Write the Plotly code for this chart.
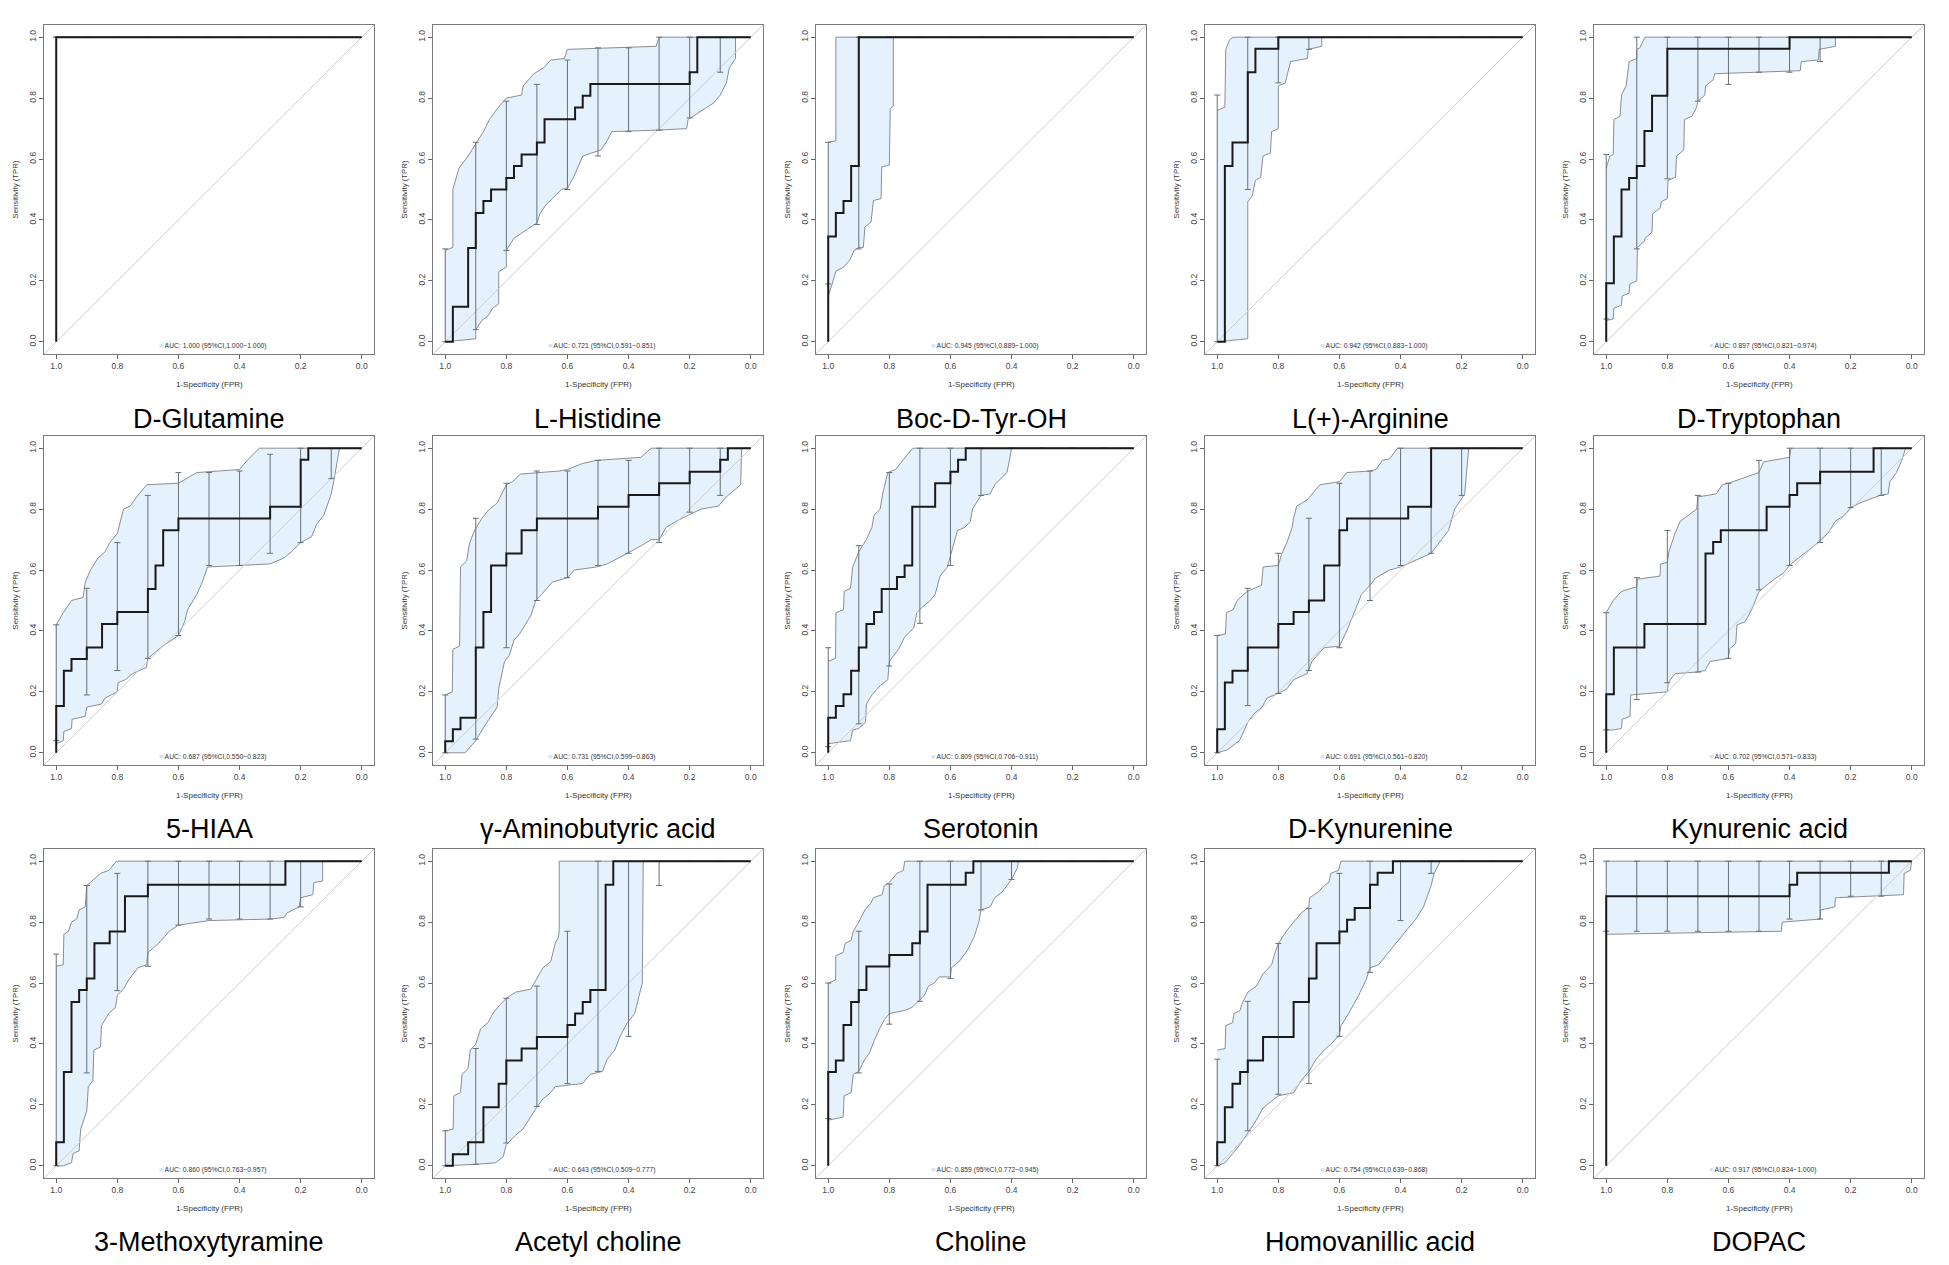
import plotly.graph_objects as go

# ---------------- data ----------------
NAMES = ["D-Glutamine", "L-Histidine", "Boc-D-Tyr-OH", "L(+)-Arginine", "D-Tryptophan",
         "5-HIAA", "γ-Aminobutyric acid", "Serotonin", "D-Kynurenine", "Kynurenic acid",
         "3-Methoxytyramine", "Acetyl choline", "Choline", "Homovanillic acid", "DOPAC"]
AUC = [1.000, 0.721, 0.945, 0.942, 0.897, 0.687, 0.731, 0.809, 0.691, 0.702, 0.860, 0.643, 0.859, 0.754, 0.917]
AUC_CI_LO = [1.000, 0.591, 0.889, 0.883, 0.821, 0.550, 0.599, 0.706, 0.561, 0.571, 0.763, 0.509, 0.772, 0.639, 0.824]
AUC_CI_HI = [1.000, 0.851, 1.000, 1.000, 0.974, 0.823, 0.863, 0.911, 0.820, 0.833, 0.957, 0.777, 0.945, 0.868, 1.000]

TICKS = [0.0, 0.2, 0.4, 0.6, 0.8, 1.0]
TICK_LABELS = ["0.0", "0.2", "0.4", "0.6", "0.8", "1.0"]
BAR_SPEC = [1.0, 0.9, 0.8, 0.7, 0.6, 0.5, 0.4, 0.3, 0.2, 0.1]

# 1 D-Glutamine
P01_ROC_SP = [1.0, 1.0, 0.0]
P01_ROC_SE = [0.0, 1.0, 1.0]
P01_UPPER = [(1.0, 1.0), (0.0, 1.0)]
P01_LOWER = [(1.0, 1.0), (0.0, 1.0)]
P01_BAR_LO = [1.0, 1.0, 1.0, 1.0, 1.0, 1.0, 1.0, 1.0, 1.0, 1.0]
P01_BAR_HI = [1.0, 1.0, 1.0, 1.0, 1.0, 1.0, 1.0, 1.0, 1.0, 1.0]

# 2 L-Histidine
P02_ROC_SP = [1.0, 0.975, 0.925, 0.9, 0.875, 0.85, 0.8, 0.775, 0.75, 0.7, 0.675, 0.575, 0.55, 0.525, 0.2, 0.175, 0.0]
P02_ROC_SE = [0.0, 0.115, 0.308, 0.423, 0.462, 0.5, 0.538, 0.577, 0.615, 0.654, 0.731, 0.769, 0.808, 0.846, 0.885, 1.0, 1.0]
P02_UPPER = [(1.0, 0.30), (0.975, 0.31), (0.975, 0.50), (0.955, 0.57), (0.925, 0.61), (0.9, 0.65), (0.875, 0.69),
             (0.855, 0.73), (0.83, 0.765), (0.8, 0.80), (0.75, 0.81), (0.745, 0.84), (0.71, 0.88), (0.677, 0.90),
             (0.655, 0.925), (0.61, 0.93), (0.6, 0.96), (0.31, 0.97), (0.30, 1.0), (0.0, 1.0)]
P02_LOWER = [(1.0, 0.0), (0.9, 0.01), (0.9, 0.04), (0.88, 0.07), (0.86, 0.085), (0.845, 0.11), (0.825, 0.125),
             (0.825, 0.23), (0.8, 0.245), (0.8, 0.30), (0.775, 0.34), (0.73, 0.37), (0.70, 0.39), (0.69, 0.42),
             (0.67, 0.45), (0.62, 0.50), (0.60, 0.505), (0.58, 0.54), (0.55, 0.61), (0.49, 0.63), (0.47, 0.66),
             (0.455, 0.69), (0.30, 0.695), (0.21, 0.70), (0.205, 0.73), (0.16, 0.76), (0.12, 0.785), (0.10, 0.81),
             (0.08, 0.85), (0.07, 0.9), (0.05, 0.93), (0.05, 1.0), (0.0, 1.0)]
P02_BAR_LO = [0.0, 0.04, 0.30, 0.385, 0.50, 0.61, 0.69, 0.695, 0.735, 0.885]
P02_BAR_HI = [0.305, 0.655, 0.79, 0.845, 0.925, 0.965, 0.965, 1.0, 1.0, 1.0]

# 3 Boc-D-Tyr-OH
P03_ROC_SP = [1.0, 1.0, 0.975, 0.95, 0.925, 0.9, 0.0]
P03_ROC_SE = [0.0, 0.346, 0.423, 0.462, 0.577, 1.0, 1.0]
P03_UPPER = [(1.0, 0.655), (0.975, 0.66), (0.975, 1.0), (0.0, 1.0)]
P03_LOWER = [(1.0, 0.15), (0.987, 0.19), (0.975, 0.232), (0.95, 0.245), (0.93, 0.267), (0.915, 0.30), (0.9, 0.31),
             (0.885, 0.31), (0.88, 0.377), (0.86, 0.393), (0.852, 0.464), (0.827, 0.47), (0.825, 0.574), (0.8, 0.58),
             (0.797, 0.766), (0.787, 0.773), (0.787, 1.0), (0.0, 1.0)]
P03_BAR_LO = [0.19, 0.305, 1.0, 1.0, 1.0, 1.0, 1.0, 1.0, 1.0, 1.0]
P03_BAR_HI = [0.655, 1.0, 1.0, 1.0, 1.0, 1.0, 1.0, 1.0, 1.0, 1.0]

# 4 L(+)-Arginine
P04_ROC_SP = [1.0, 0.975, 0.95, 0.9, 0.875, 0.8, 0.0]
P04_ROC_SE = [0.0, 0.577, 0.654, 0.885, 0.962, 1.0, 1.0]
P04_UPPER = [(1.0, 0.76), (0.975, 0.77), (0.972, 0.96), (0.96, 0.99), (0.948, 1.0), (0.0, 1.0)]
P04_LOWER = [(1.0, 0.0), (0.9, 0.01), (0.9, 0.46), (0.885, 0.48), (0.875, 0.53), (0.858, 0.54), (0.85, 0.61),
             (0.826, 0.62), (0.822, 0.69), (0.8, 0.70), (0.8, 0.84), (0.777, 0.85), (0.77, 0.88), (0.76, 0.92),
             (0.705, 0.93), (0.702, 0.96), (0.658, 0.97), (0.658, 1.0), (0.0, 1.0)]
P04_BAR_LO = [0.0, 0.50, 0.85, 0.96, 1.0, 1.0, 1.0, 1.0, 1.0, 1.0]
P04_BAR_HI = [0.81, 1.0, 1.0, 1.0, 1.0, 1.0, 1.0, 1.0, 1.0, 1.0]

# 5 D-Tryptophan
P05_ROC_SP = [1.0, 1.0, 0.975, 0.95, 0.925, 0.9, 0.875, 0.85, 0.8, 0.4, 0.0]
P05_ROC_SE = [0.0, 0.192, 0.346, 0.5, 0.538, 0.577, 0.692, 0.808, 0.962, 1.0, 1.0]
P05_UPPER = [(1.0, 0.57), (0.988, 0.61), (0.977, 0.615), (0.975, 0.73), (0.955, 0.74), (0.95, 0.81), (0.935, 0.84),
             (0.925, 0.92), (0.9, 0.93), (0.9, 0.96), (0.89, 0.965), (0.873, 1.0), (0.0, 1.0)]
P05_LOWER = [(1.0, 0.07), (0.977, 0.075), (0.975, 0.11), (0.95, 0.12), (0.948, 0.15), (0.925, 0.16), (0.923, 0.19),
             (0.9, 0.2), (0.898, 0.31), (0.875, 0.33), (0.873, 0.34), (0.85, 0.36), (0.848, 0.42), (0.823, 0.44),
             (0.82, 0.46), (0.8, 0.47), (0.798, 0.53), (0.773, 0.54), (0.77, 0.61), (0.746, 0.63), (0.744, 0.73),
             (0.72, 0.74), (0.71, 0.76), (0.704, 0.77), (0.7, 0.79), (0.677, 0.81), (0.675, 0.84), (0.65, 0.86),
             (0.645, 0.88), (0.5, 0.885), (0.365, 0.89), (0.362, 0.92), (0.306, 0.925), (0.303, 0.96), (0.25, 0.97),
             (0.25, 1.0), (0.0, 1.0)]
P05_BAR_LO = [0.075, 0.305, 0.535, 0.79, 0.845, 0.885, 0.885, 0.92, 1.0, 1.0]
P05_BAR_HI = [0.615, 1.0, 1.0, 1.0, 1.0, 1.0, 1.0, 1.0, 1.0, 1.0]

# 6 5-HIAA
P06_ROC_SP = [1.0, 1.0, 0.975, 0.95, 0.9, 0.85, 0.8, 0.7, 0.675, 0.65, 0.6, 0.3, 0.2, 0.175, 0.0]
P06_ROC_SE = [0.0, 0.154, 0.269, 0.308, 0.346, 0.423, 0.462, 0.538, 0.615, 0.731, 0.769, 0.808, 0.962, 1.0, 1.0]
P06_UPPER = [(1.0, 0.42), (0.977, 0.46), (0.95, 0.5), (0.912, 0.51), (0.905, 0.56), (0.888, 0.60), (0.863, 0.64),
             (0.84, 0.66), (0.825, 0.69), (0.8, 0.72), (0.78, 0.80), (0.758, 0.81), (0.737, 0.84), (0.704, 0.88),
             (0.6, 0.885), (0.54, 0.92), (0.4, 0.93), (0.375, 0.96), (0.335, 1.0), (0.0, 1.0)]
P06_LOWER = [(1.0, 0.03), (0.977, 0.04), (0.975, 0.07), (0.95, 0.08), (0.948, 0.11), (0.905, 0.12), (0.9, 0.15),
             (0.852, 0.16), (0.84, 0.18), (0.8, 0.2), (0.798, 0.23), (0.774, 0.24), (0.75, 0.26), (0.705, 0.28),
             (0.7, 0.31), (0.676, 0.33), (0.652, 0.35), (0.6, 0.385), (0.58, 0.43), (0.57, 0.47), (0.54, 0.52),
             (0.522, 0.56), (0.505, 0.61), (0.3, 0.62), (0.254, 0.64), (0.23, 0.66), (0.2, 0.69), (0.164, 0.71),
             (0.148, 0.75), (0.124, 0.78), (0.1, 0.85), (0.09, 0.90), (0.073, 1.0), (0.0, 1.0)]
P06_BAR_LO = [0.04, 0.19, 0.27, 0.31, 0.385, 0.615, 0.615, 0.655, 0.69, 0.90]
P06_BAR_HI = [0.42, 0.54, 0.69, 0.845, 0.92, 0.92, 0.925, 0.98, 1.0, 1.0]

# 7 gamma-Aminobutyric acid
P07_ROC_SP = [1.0, 1.0, 0.975, 0.95, 0.9, 0.9, 0.875, 0.85, 0.8, 0.75, 0.7, 0.5, 0.4, 0.3, 0.2, 0.1, 0.075, 0.0]
P07_ROC_SE = [0.0, 0.038, 0.077, 0.115, 0.192, 0.346, 0.462, 0.615, 0.654, 0.731, 0.769, 0.808, 0.846, 0.885, 0.923, 0.962, 1.0, 1.0]
P07_UPPER = [(1.0, 0.19), (0.977, 0.2), (0.975, 0.34), (0.953, 0.35), (0.95, 0.61), (0.93, 0.63), (0.92, 0.69),
             (0.904, 0.73), (0.88, 0.77), (0.855, 0.80), (0.83, 0.82), (0.814, 0.85), (0.8, 0.88), (0.78, 0.89),
             (0.754, 0.915), (0.627, 0.925), (0.6, 0.93), (0.55, 0.95), (0.505, 0.96), (0.36, 0.97), (0.326, 1.0),
             (0.0, 1.0)]
P07_LOWER = [(1.0, 0.0), (0.935, 0.0), (0.9, 0.04), (0.87, 0.09), (0.85, 0.12), (0.83, 0.15), (0.825, 0.21),
             (0.806, 0.30), (0.79, 0.32), (0.775, 0.37), (0.757, 0.39), (0.733, 0.43), (0.72, 0.45), (0.704, 0.5),
             (0.684, 0.52), (0.65, 0.56), (0.6, 0.575), (0.578, 0.60), (0.505, 0.61), (0.47, 0.62), (0.404, 0.655),
             (0.358, 0.68), (0.326, 0.70), (0.3, 0.70), (0.277, 0.74), (0.244, 0.76), (0.204, 0.78), (0.163, 0.80),
             (0.106, 0.81), (0.08, 0.84), (0.033, 0.88), (0.03, 1.0), (0.0, 1.0)]
P07_BAR_LO = [0.0, 0.045, 0.345, 0.5, 0.575, 0.615, 0.655, 0.69, 0.79, 0.845]
P07_BAR_HI = [0.19, 0.77, 0.885, 0.925, 0.925, 0.96, 0.96, 1.0, 1.0, 1.0]

# 8 Serotonin
P08_ROC_SP = [1.0, 1.0, 0.975, 0.95, 0.925, 0.9, 0.875, 0.85, 0.825, 0.775, 0.75, 0.725, 0.65, 0.6, 0.575, 0.55, 0.0]
P08_ROC_SE = [0.0, 0.115, 0.154, 0.192, 0.269, 0.346, 0.423, 0.462, 0.538, 0.577, 0.615, 0.808, 0.885, 0.923, 0.962, 1.0, 1.0]
P08_UPPER = [(1.0, 0.30), (0.976, 0.31), (0.975, 0.46), (0.95, 0.47), (0.948, 0.53), (0.927, 0.54), (0.92, 0.61),
             (0.9, 0.66), (0.875, 0.70), (0.857, 0.74), (0.85, 0.78), (0.83, 0.80), (0.822, 0.85), (0.805, 0.92),
             (0.78, 0.93), (0.765, 0.95), (0.74, 0.98), (0.723, 1.0), (0.0, 1.0)]
P08_LOWER = [(1.0, 0.03), (0.927, 0.04), (0.92, 0.075), (0.9, 0.08), (0.878, 0.10), (0.875, 0.16), (0.857, 0.19),
             (0.83, 0.22), (0.805, 0.24), (0.8, 0.30), (0.77, 0.34), (0.75, 0.38), (0.72, 0.41), (0.71, 0.46),
             (0.69, 0.48), (0.666, 0.50), (0.65, 0.52), (0.634, 0.58), (0.61, 0.61), (0.6, 0.65), (0.577, 0.73),
             (0.553, 0.74), (0.535, 0.76), (0.528, 0.80), (0.5, 0.845), (0.47, 0.85), (0.455, 0.88), (0.415, 0.92),
             (0.405, 0.97), (0.4, 1.0), (0.0, 1.0)]
P08_BAR_LO = [0.02, 0.095, 0.285, 0.425, 0.615, 0.845, 1.0, 1.0, 1.0, 1.0]
P08_BAR_HI = [0.345, 0.68, 0.92, 1.0, 1.0, 1.0, 1.0, 1.0, 1.0, 1.0]

# 9 D-Kynurenine
P09_ROC_SP = [1.0, 1.0, 0.975, 0.95, 0.9, 0.8, 0.75, 0.7, 0.65, 0.6, 0.575, 0.375, 0.3, 0.0]
P09_ROC_SE = [0.0, 0.077, 0.231, 0.269, 0.346, 0.423, 0.462, 0.5, 0.615, 0.731, 0.769, 0.808, 1.0, 1.0]
P09_UPPER = [(1.0, 0.385), (0.973, 0.39), (0.97, 0.46), (0.948, 0.47), (0.935, 0.5), (0.902, 0.53), (0.855, 0.55),
             (0.85, 0.61), (0.8, 0.615), (0.79, 0.65), (0.772, 0.69), (0.755, 0.74), (0.75, 0.77), (0.74, 0.81),
             (0.706, 0.83), (0.68, 0.86), (0.664, 0.88), (0.6, 0.89), (0.576, 0.92), (0.5, 0.925), (0.48, 0.93),
             (0.46, 0.96), (0.436, 0.965), (0.41, 1.0), (0.0, 1.0)]
P09_LOWER = [(1.0, 0.0), (0.967, 0.01), (0.927, 0.04), (0.9, 0.10), (0.878, 0.13), (0.853, 0.15), (0.837, 0.18),
             (0.8, 0.195), (0.772, 0.21), (0.75, 0.24), (0.706, 0.26), (0.69, 0.30), (0.664, 0.33), (0.65, 0.345),
             (0.6, 0.35), (0.576, 0.40), (0.544, 0.48), (0.528, 0.52), (0.5, 0.55), (0.48, 0.575), (0.436, 0.60),
             (0.4, 0.61), (0.3, 0.655), (0.267, 0.70), (0.243, 0.73), (0.223, 0.80), (0.19, 0.85), (0.177, 1.0),
             (0.0, 1.0)]
P09_BAR_LO = [0.0, 0.155, 0.195, 0.27, 0.345, 0.5, 0.615, 0.655, 0.845, 1.0]
P09_BAR_HI = [0.385, 0.54, 0.655, 0.77, 0.885, 0.925, 1.0, 1.0, 1.0, 1.0]

# 10 Kynurenic acid
P10_ROC_SP = [1.0, 1.0, 0.975, 0.875, 0.675, 0.65, 0.625, 0.475, 0.4, 0.375, 0.3, 0.125, 0.0]
P10_ROC_SE = [0.0, 0.192, 0.346, 0.423, 0.654, 0.692, 0.731, 0.808, 0.846, 0.885, 0.923, 1.0, 1.0]
P10_UPPER = [(1.0, 0.46), (0.977, 0.5), (0.95, 0.53), (0.9, 0.545), (0.898, 0.57), (0.824, 0.58), (0.822, 0.62),
             (0.8, 0.625), (0.795, 0.66), (0.785, 0.69), (0.775, 0.72), (0.758, 0.76), (0.73, 0.78), (0.704, 0.80),
             (0.7, 0.84), (0.64, 0.85), (0.62, 0.88), (0.6, 0.885), (0.5, 0.92), (0.485, 0.955), (0.4, 0.97),
             (0.395, 1.0), (0.0, 1.0)]
P10_LOWER = [(1.0, 0.075), (0.977, 0.075), (0.95, 0.08), (0.948, 0.11), (0.922, 0.12), (0.92, 0.19), (0.8, 0.20),
             (0.797, 0.23), (0.775, 0.26), (0.704, 0.265), (0.677, 0.27), (0.66, 0.30), (0.6, 0.31), (0.597, 0.34),
             (0.576, 0.36), (0.572, 0.42), (0.546, 0.43), (0.524, 0.47), (0.5, 0.53), (0.485, 0.54), (0.45, 0.57),
             (0.42, 0.59), (0.4, 0.615), (0.37, 0.64), (0.35, 0.655), (0.32, 0.68), (0.3, 0.695), (0.275, 0.72),
             (0.25, 0.76), (0.22, 0.78), (0.2, 0.805), (0.17, 0.82), (0.104, 0.845), (0.077, 0.85), (0.072, 0.89),
             (0.05, 0.92), (0.033, 0.96), (0.02, 1.0), (0.0, 1.0)]
P10_BAR_LO = [0.075, 0.175, 0.23, 0.265, 0.31, 0.535, 0.615, 0.69, 0.805, 0.845]
P10_BAR_HI = [0.46, 0.575, 0.73, 0.845, 0.885, 0.96, 1.0, 1.0, 1.0, 1.0]

# 11 3-Methoxytyramine
P11_ROC_SP = [1.0, 1.0, 0.975, 0.95, 0.925, 0.9, 0.875, 0.825, 0.775, 0.7, 0.25, 0.0]
P11_ROC_SE = [0.0, 0.077, 0.308, 0.538, 0.577, 0.615, 0.731, 0.769, 0.885, 0.923, 1.0, 1.0]
P11_UPPER = [(1.0, 0.655), (0.977, 0.66), (0.975, 0.76), (0.96, 0.77), (0.95, 0.80), (0.933, 0.81), (0.925, 0.84),
             (0.905, 0.85), (0.9, 0.92), (0.888, 0.93), (0.855, 0.96), (0.828, 0.97), (0.803, 1.0), (0.0, 1.0)]
P11_LOWER = [(1.0, 0.0), (0.977, 0.0), (0.95, 0.01), (0.945, 0.04), (0.925, 0.05), (0.92, 0.12), (0.9, 0.18),
             (0.895, 0.26), (0.88, 0.28), (0.877, 0.38), (0.855, 0.39), (0.852, 0.46), (0.828, 0.50), (0.806, 0.52),
             (0.8, 0.56), (0.78, 0.58), (0.763, 0.61), (0.733, 0.65), (0.704, 0.66), (0.7, 0.70), (0.665, 0.73),
             (0.63, 0.77), (0.6, 0.79), (0.5, 0.805), (0.3, 0.81), (0.254, 0.815), (0.245, 0.83), (0.205, 0.85),
             (0.2, 0.88), (0.16, 0.89), (0.157, 0.93), (0.128, 0.935), (0.128, 1.0), (0.0, 1.0)]
P11_BAR_LO = [0.0, 0.305, 0.575, 0.655, 0.79, 0.81, 0.81, 0.81, 0.85, 1.0]
P11_BAR_HI = [0.695, 0.92, 0.96, 1.0, 1.0, 1.0, 1.0, 1.0, 1.0, 1.0]

# 12 Acetyl choline
P12_ROC_SP = [1.0, 0.975, 0.925, 0.875, 0.825, 0.8, 0.75, 0.7, 0.6, 0.575, 0.55, 0.525, 0.475, 0.45, 0.0]
P12_ROC_SE = [0.0, 0.038, 0.077, 0.192, 0.269, 0.346, 0.385, 0.423, 0.462, 0.5, 0.538, 0.577, 0.923, 1.0, 1.0]
P12_UPPER = [(1.0, 0.115), (0.974, 0.12), (0.972, 0.23), (0.95, 0.24), (0.945, 0.30), (0.925, 0.32), (0.918, 0.38),
             (0.9, 0.40), (0.884, 0.45), (0.86, 0.47), (0.844, 0.50), (0.82, 0.53), (0.8, 0.55), (0.77, 0.57),
             (0.72, 0.58), (0.697, 0.62), (0.68, 0.65), (0.655, 0.67), (0.64, 0.73), (0.63, 0.75), (0.627, 0.77),
             (0.627, 1.0), (0.0, 1.0)]
P12_LOWER = [(1.0, 0.0), (0.9, 0.005), (0.835, 0.01), (0.81, 0.03), (0.8, 0.07), (0.77, 0.10), (0.746, 0.12),
             (0.72, 0.16), (0.702, 0.19), (0.68, 0.22), (0.655, 0.24), (0.64, 0.26), (0.6, 0.265), (0.55, 0.27),
             (0.526, 0.30), (0.485, 0.31), (0.47, 0.35), (0.445, 0.38), (0.43, 0.42), (0.404, 0.47), (0.38, 0.5),
             (0.355, 0.6), (0.352, 1.0), (0.0, 1.0)]
P12_BAR_LO = [0.0, 0.005, 0.075, 0.195, 0.27, 0.31, 0.425, 0.92, 1.0, 1.0]
P12_BAR_HI = [0.115, 0.385, 0.55, 0.59, 0.77, 1.0, 1.0, 1.0, 1.0, 1.0]

# 13 Choline
P13_ROC_SP = [1.0, 1.0, 0.975, 0.95, 0.925, 0.9, 0.875, 0.8, 0.725, 0.7, 0.675, 0.55, 0.525, 0.0]
P13_ROC_SE = [0.0, 0.308, 0.346, 0.462, 0.538, 0.577, 0.654, 0.692, 0.731, 0.769, 0.923, 0.962, 1.0, 1.0]
P13_UPPER = [(1.0, 0.6), (0.976, 0.61), (0.975, 0.69), (0.951, 0.70), (0.945, 0.73), (0.925, 0.74), (0.918, 0.77),
             (0.9, 0.80), (0.88, 0.84), (0.862, 0.86), (0.852, 0.88), (0.824, 0.89), (0.816, 0.92), (0.8, 0.93),
             (0.775, 0.96), (0.754, 0.97), (0.75, 1.0), (0.0, 1.0)]
P13_LOWER = [(1.0, 0.15), (0.951, 0.16), (0.948, 0.23), (0.925, 0.24), (0.918, 0.30), (0.9, 0.31), (0.88, 0.35),
             (0.865, 0.37), (0.85, 0.41), (0.832, 0.45), (0.816, 0.48), (0.8, 0.50), (0.75, 0.51), (0.726, 0.52),
             (0.705, 0.54), (0.685, 0.56), (0.672, 0.59), (0.653, 0.60), (0.637, 0.62), (0.6, 0.62), (0.597, 0.65),
             (0.572, 0.67), (0.543, 0.71), (0.523, 0.75), (0.507, 0.80), (0.5, 0.84), (0.47, 0.85), (0.455, 0.88),
             (0.43, 0.90), (0.4, 0.94), (0.38, 0.98), (0.378, 1.0), (0.0, 1.0)]
P13_BAR_LO = [0.155, 0.305, 0.465, 0.54, 0.615, 0.84, 0.94, 1.0, 1.0, 1.0]
P13_BAR_HI = [0.6, 0.77, 0.925, 1.0, 1.0, 1.0, 1.0, 1.0, 1.0, 1.0]

# 14 Homovanillic acid
P14_ROC_SP = [1.0, 1.0, 0.975, 0.95, 0.925, 0.9, 0.85, 0.75, 0.7, 0.675, 0.6, 0.575, 0.55, 0.5, 0.475, 0.425, 0.0]
P14_ROC_SE = [0.0, 0.077, 0.192, 0.269, 0.308, 0.346, 0.423, 0.538, 0.615, 0.731, 0.769, 0.808, 0.846, 0.923, 0.962, 1.0, 1.0]
P14_UPPER = [(1.0, 0.38), (0.974, 0.385), (0.972, 0.46), (0.95, 0.47), (0.945, 0.50), (0.925, 0.51), (0.92, 0.53),
             (0.9, 0.57), (0.872, 0.59), (0.85, 0.63), (0.822, 0.66), (0.814, 0.69), (0.8, 0.73), (0.774, 0.77),
             (0.75, 0.80), (0.725, 0.83), (0.7, 0.85), (0.698, 0.88), (0.668, 0.90), (0.65, 0.92), (0.635, 0.93),
             (0.628, 0.96), (0.603, 0.97), (0.595, 1.0), (0.0, 1.0)]
P14_LOWER = [(1.0, 0.0), (0.974, 0.01), (0.95, 0.04), (0.925, 0.07), (0.9, 0.11), (0.872, 0.15), (0.85, 0.19),
             (0.8, 0.23), (0.75, 0.24), (0.725, 0.28), (0.7, 0.31), (0.676, 0.35), (0.65, 0.38), (0.627, 0.40),
             (0.6, 0.43), (0.595, 0.46), (0.57, 0.50), (0.537, 0.56), (0.513, 0.61), (0.5, 0.65), (0.472, 0.66),
             (0.448, 0.69), (0.423, 0.72), (0.4, 0.75), (0.375, 0.78), (0.35, 0.81), (0.325, 0.85), (0.3, 0.92),
             (0.29, 0.96), (0.27, 1.0), (0.0, 1.0)]
P14_BAR_LO = [0.0, 0.115, 0.235, 0.27, 0.425, 0.635, 0.805, 0.96, 1.0, 1.0]
P14_BAR_HI = [0.35, 0.54, 0.73, 0.845, 0.96, 1.0, 1.0, 1.0, 1.0, 1.0]

# 15 DOPAC
P15_ROC_SP = [1.0, 1.0, 0.4, 0.375, 0.075, 0.0]
P15_ROC_SE = [0.0, 0.885, 0.923, 0.962, 1.0, 1.0]
P15_UPPER = [(1.0, 1.0), (0.0, 1.0)]
P15_LOWER = [(1.0, 0.76), (0.427, 0.77), (0.424, 0.80), (0.3, 0.81), (0.298, 0.84), (0.252, 0.85), (0.25, 0.88),
             (0.027, 0.89), (0.025, 0.96), (0.005, 0.97), (0.0, 1.0)]
P15_BAR_LO = [0.77, 0.77, 0.77, 0.77, 0.77, 0.77, 0.81, 0.81, 0.885, 0.885]
P15_BAR_HI = [1.0, 1.0, 1.0, 1.0, 1.0, 1.0, 1.0, 1.0, 1.0, 1.0]

PANELS = [
    (P01_ROC_SP, P01_ROC_SE, P01_UPPER, P01_LOWER, P01_BAR_LO, P01_BAR_HI),
    (P02_ROC_SP, P02_ROC_SE, P02_UPPER, P02_LOWER, P02_BAR_LO, P02_BAR_HI),
    (P03_ROC_SP, P03_ROC_SE, P03_UPPER, P03_LOWER, P03_BAR_LO, P03_BAR_HI),
    (P04_ROC_SP, P04_ROC_SE, P04_UPPER, P04_LOWER, P04_BAR_LO, P04_BAR_HI),
    (P05_ROC_SP, P05_ROC_SE, P05_UPPER, P05_LOWER, P05_BAR_LO, P05_BAR_HI),
    (P06_ROC_SP, P06_ROC_SE, P06_UPPER, P06_LOWER, P06_BAR_LO, P06_BAR_HI),
    (P07_ROC_SP, P07_ROC_SE, P07_UPPER, P07_LOWER, P07_BAR_LO, P07_BAR_HI),
    (P08_ROC_SP, P08_ROC_SE, P08_UPPER, P08_LOWER, P08_BAR_LO, P08_BAR_HI),
    (P09_ROC_SP, P09_ROC_SE, P09_UPPER, P09_LOWER, P09_BAR_LO, P09_BAR_HI),
    (P10_ROC_SP, P10_ROC_SE, P10_UPPER, P10_LOWER, P10_BAR_LO, P10_BAR_HI),
    (P11_ROC_SP, P11_ROC_SE, P11_UPPER, P11_LOWER, P11_BAR_LO, P11_BAR_HI),
    (P12_ROC_SP, P12_ROC_SE, P12_UPPER, P12_LOWER, P12_BAR_LO, P12_BAR_HI),
    (P13_ROC_SP, P13_ROC_SE, P13_UPPER, P13_LOWER, P13_BAR_LO, P13_BAR_HI),
    (P14_ROC_SP, P14_ROC_SE, P14_UPPER, P14_LOWER, P14_BAR_LO, P14_BAR_HI),
    (P15_ROC_SP, P15_ROC_SE, P15_UPPER, P15_LOWER, P15_BAR_LO, P15_BAR_HI),
]

# ---------------- layout / style ----------------
W, H = 1949, 1265
PAGE_OFFSET = 8          # default body margin of the html page
COL_LEFT = [44, 433, 816, 1205, 1594]
ROW_TOP = [25, 436, 849]
ROW_TITLE_Y = [419, 829, 1242]
BOX_W, BOX_H = 330, 329
PAD = 0.04
FONT = "Arial, Liberation Sans, Helvetica, sans-serif"
FILL = "#E5F1FC"
EDGE = "#8A8F93"
BAR_COL = "#667078"


def px_x(px):
    return (px - PAGE_OFFSET) / W


def px_y(py):
    return 1 - (py - PAGE_OFFSET) / H


fig = go.Figure()
layout = dict(width=W, height=H, margin=dict(l=0, r=0, t=0, b=0),
              paper_bgcolor="white", plot_bgcolor="white", showlegend=False,
              font=dict(family=FONT, color="#333"))
annotations = []

for i, (roc_sp, roc_se, upper, lower, bar_lo, bar_hi) in enumerate(PANELS):
    r, c = divmod(i, 5)
    sfx = "" if i == 0 else str(i + 1)
    xa, ya = "x" + sfx, "y" + sfx
    left, top = COL_LEFT[c], ROW_TOP[r]
    right, bottom = left + BOX_W, top + BOX_H

    # CI band (shape)
    bx = [p[0] for p in upper] + [p[0] for p in reversed(lower)]
    by = [p[1] for p in upper] + [p[1] for p in reversed(lower)]
    fig.add_trace(go.Scatter(x=bx, y=by, mode="lines", fill="toself", fillcolor=FILL,
                             line=dict(color=EDGE, width=1), hoverinfo="skip",
                             xaxis=xa, yaxis=ya))
    # identity line across the plot box
    fig.add_trace(go.Scatter(x=[1 + PAD, -PAD], y=[-PAD, 1 + PAD], mode="lines",
                             line=dict(color="#CDCDCD", width=1), hoverinfo="skip",
                             xaxis=xa, yaxis=ya))
    # CI bars
    fig.add_trace(go.Scatter(x=BAR_SPEC, y=bar_hi, mode="markers",
                             marker=dict(size=1, color="rgba(0,0,0,0)"),
                             error_y=dict(type="data", symmetric=False,
                                          array=[0.0] * len(bar_hi),
                                          arrayminus=[h - l for h, l in zip(bar_hi, bar_lo)],
                                          color=BAR_COL, thickness=1, width=3),
                             hoverinfo="skip", xaxis=xa, yaxis=ya))
    # ROC curve
    fig.add_trace(go.Scatter(x=roc_sp, y=roc_se, mode="lines", line_shape="hv",
                             line=dict(color="#1A1A1A", width=2), hoverinfo="skip",
                             xaxis=xa, yaxis=ya))

    axis_common = dict(showgrid=False, zeroline=False, showline=True, mirror=True,
                       linecolor="#7A7A7A", linewidth=1, ticks="outside", ticklen=4,
                       tickcolor="#666", tickwidth=1, tickvals=TICKS, ticktext=TICK_LABELS,
                       tickfont=dict(size=8.5, color="#444", family=FONT), fixedrange=True)
    layout["xaxis" + sfx] = dict(axis_common, domain=[px_x(left), px_x(right)], anchor=ya,
                                 range=[1 + PAD, -PAD])
    layout["yaxis" + sfx] = dict(axis_common, domain=[px_y(bottom), px_y(top)], anchor=xa,
                                 range=[-PAD, 1 + PAD], tickangle=-90)

    cx = (left + right) / 2
    annotations.append(dict(text=NAMES[i], x=px_x(cx), y=px_y(ROW_TITLE_Y[r]), xref="paper", yref="paper",
                            showarrow=False, xanchor="center", yanchor="middle",
                            font=dict(size=27, color="black", family=FONT)))
    annotations.append(dict(text="1-Specificity (FPR)", x=px_x(cx), y=px_y(bottom + 30),
                            xref="paper", yref="paper", showarrow=False,
                            xanchor="center", yanchor="middle",
                            font=dict(size=8, color="#333", family=FONT)))
    annotations.append(dict(text="Sensitivity (TPR)", x=px_x(left - 29), y=px_y((top + bottom) / 2),
                            xref="paper", yref="paper", showarrow=False, textangle=-90,
                            xanchor="center", yanchor="middle",
                            font=dict(size=7.8, color="#333", family=FONT)))
    auc_txt = f"AUC: {AUC[i]:.3f} (95%CI,{AUC_CI_LO[i]:.3f}\u2212{AUC_CI_HI[i]:.3f})"
    annotations.append(dict(text=f'<span style="color:#CFE5F8">\u25A0</span> ' + auc_txt,
                            x=0.49, y=-0.013, xref=xa, yref=ya, showarrow=False,
                            xanchor="center", yanchor="middle",
                            font=dict(size=6.8, color="#333", family=FONT)))

layout["annotations"] = annotations
fig.update_layout(**layout)
fig.write_html("out.html")
